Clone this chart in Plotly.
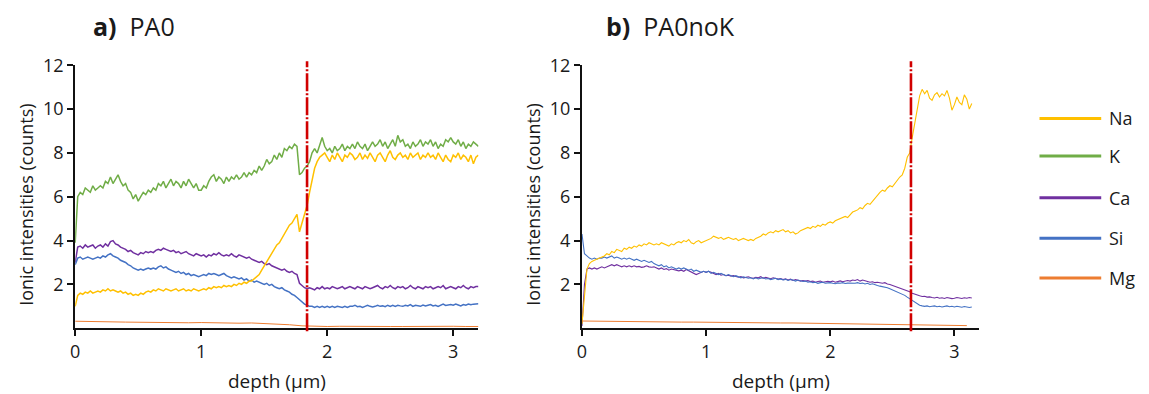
import plotly.graph_objects as go

# ---------------------------------------------------------------- data
# depth grid (µm) for the measured profiles, 0.02 µm sampling
STEP = 0.02
depth_a = [round(i * STEP, 2) for i in range(161)]   # 0 .. 3.20
depth_b = [round(i * STEP, 2) for i in range(158)]   # 0 .. 3.14
# coarser grid for the weak Mg signal, 0.1 µm sampling
depth_mg_a = [round(i * 0.1, 1) for i in range(33)]  # 0 .. 3.2
depth_mg_b = [round(i * 0.1, 1) for i in range(32)]  # 0 .. 3.1

elements = ["Na", "K", "Ca", "Si", "Mg"]
colors = {"Na": "#FFC000", "K": "#70AD47", "Ca": "#7030A0",
          "Si": "#4472C4", "Mg": "#ED7D31"}

panel_titles = ["a)", "b)"]
sample_names = ["PA0", "PA0noK"]
interface_depth = [1.84, 2.65]

x_tick_labels = ["0", "1", "2", "3"]
y_tick_labels = ["2", "4", "6", "8", "10", "12"]

# ---- sample PA0
k_a = [
    3.9, 6.0, 6.2, 6.1, 6.4, 6.3, 6.2, 6.5, 6.3, 6.4,
    6.5, 6.4, 6.7, 6.6, 6.9, 6.6, 6.8, 7.0, 6.7, 6.5,
    6.6, 6.3, 6.2, 5.9, 6.1, 5.8, 6.0, 6.2, 6.1, 6.3,
    6.2, 6.4, 6.3, 6.6, 6.5, 6.7, 6.4, 6.6, 6.8, 6.5,
    6.7, 6.6, 6.4, 6.7, 6.5, 6.8, 6.6, 6.4, 6.6, 6.3,
    6.3, 6.5, 6.4, 6.7, 6.9, 7.0, 6.7, 6.9, 6.8, 6.6,
    6.9, 6.7, 6.9, 6.8, 7.0, 6.8, 6.9, 7.1, 6.9, 7.1,
    7.0, 7.2, 7.1, 7.4, 7.2, 7.4, 7.7, 7.5, 7.6, 7.9,
    7.7, 8.0, 7.8, 8.2, 8.1, 8.3, 8.2, 8.4, 8.3, 7.0,
    7.1, 7.3, 7.4, 7.6, 8.0, 8.2, 8.0, 8.4, 8.7, 8.3,
    8.1, 8.2, 8.0, 8.3, 8.1, 8.2, 8.4, 8.1, 8.3, 8.2,
    8.4, 8.2, 8.5, 8.3, 8.2, 8.4, 8.1, 8.3, 8.5, 8.3,
    8.4, 8.6, 8.3, 8.5, 8.2, 8.4, 8.6, 8.3, 8.8, 8.5,
    8.6, 8.3, 8.4, 8.2, 8.5, 8.3, 8.4, 8.6, 8.3, 8.5,
    8.4, 8.6, 8.3, 8.5, 8.2, 8.4, 8.3, 8.6, 8.5, 8.7,
    8.5, 8.4, 8.6, 8.3, 8.5, 8.2, 8.4, 8.3, 8.5, 8.4,
    8.3,
]
na_a = [
    1.0, 1.5, 1.6, 1.55, 1.65, 1.6, 1.7, 1.6, 1.65, 1.7,
    1.65, 1.75, 1.7, 1.8, 1.7, 1.75, 1.7, 1.65, 1.7, 1.6,
    1.65, 1.55, 1.6, 1.5, 1.55, 1.5, 1.6, 1.55, 1.65, 1.7,
    1.65, 1.75, 1.7, 1.8, 1.75, 1.7, 1.8, 1.75, 1.7, 1.75,
    1.8, 1.7, 1.75, 1.8, 1.7, 1.75, 1.7, 1.8, 1.75, 1.7,
    1.75, 1.8, 1.75, 1.85, 1.8, 1.9, 1.85, 1.9, 1.85, 1.95,
    1.9, 1.95, 1.9, 2.0, 1.95, 2.05, 2.0, 2.1, 2.05, 2.15,
    2.15, 2.25, 2.35, 2.45, 2.65, 2.85, 3.05, 3.25, 3.45, 3.65,
    3.8, 3.9, 4.1, 4.3, 4.5, 4.7, 4.8, 5.0, 5.2, 4.4,
    4.8, 5.3, 5.6, 6.2, 6.8, 7.3, 7.6, 7.8, 7.9, 8.0,
    7.8, 7.6, 7.9, 7.7, 8.0, 7.8, 7.6, 7.9, 7.8, 8.0,
    7.9, 7.7, 7.8, 8.0, 7.7, 7.9, 7.75, 8.0, 7.8, 7.6,
    7.9, 8.0, 7.8, 7.6, 7.9, 8.1, 7.8, 7.7, 7.9, 8.0,
    7.8, 7.9, 7.7, 8.0, 7.8, 7.9, 8.0, 7.7, 7.9, 7.8,
    8.0, 7.8, 7.9, 7.7, 8.0, 7.8, 7.6, 7.9, 7.7, 7.6,
    7.9, 7.8, 8.0, 7.7, 7.9, 7.8, 7.6, 7.9, 7.5, 7.8,
    7.9,
]
ca_a = [
    3.0, 3.7, 3.75, 3.65, 3.8, 3.7, 3.75, 3.8, 3.65, 3.75,
    3.8, 3.7, 3.85, 3.75, 3.95, 4.0, 3.85, 3.8, 3.7, 3.65,
    3.6, 3.5, 3.55, 3.45, 3.4, 3.35, 3.45, 3.4, 3.5, 3.45,
    3.5, 3.45, 3.55, 3.6, 3.55, 3.65, 3.6, 3.55, 3.5, 3.55,
    3.45, 3.5, 3.4, 3.45, 3.5, 3.4, 3.35, 3.3, 3.4, 3.35,
    3.3, 3.35, 3.25, 3.35, 3.3, 3.4, 3.35, 3.45, 3.35, 3.3,
    3.35, 3.3, 3.4, 3.3, 3.25, 3.35, 3.3, 3.25, 3.2, 3.25,
    3.15, 3.1, 3.05, 3.0, 3.05, 2.95, 2.9, 2.95, 2.85, 2.8,
    2.75, 2.7, 2.65, 2.7, 2.6, 2.55, 2.6, 2.5, 2.45, 2.05,
    1.95, 1.85, 1.8, 1.85, 1.8, 1.75, 1.85, 1.8, 1.9, 1.8,
    1.85, 1.8, 1.9, 1.85, 1.8, 1.85, 1.9, 1.8, 1.85, 1.9,
    1.85, 1.8, 1.9, 1.85, 1.8, 1.9, 1.85, 1.8, 1.85, 1.9,
    1.95, 1.85, 1.8, 1.9, 1.85, 1.95, 1.85, 1.8, 1.9, 1.85,
    1.9, 1.8, 1.85, 1.95, 1.85, 1.8, 1.9, 1.85, 1.8, 1.9,
    1.85, 1.9, 1.8, 1.85, 1.9, 1.85, 1.95, 1.8, 1.85, 1.9,
    1.85, 1.8, 1.9, 1.85, 1.95, 1.85, 1.8, 1.9, 1.85, 1.9,
    1.9,
]
si_a = [
    2.9, 3.2, 3.25, 3.15, 3.2, 3.25, 3.2, 3.15, 3.2, 3.25,
    3.2, 3.3, 3.25, 3.35, 3.4, 3.3, 3.25, 3.2, 3.1, 3.05,
    3.0, 2.9, 2.85, 2.75, 2.7, 2.65, 2.7, 2.65, 2.7, 2.75,
    2.7, 2.75, 2.7, 2.8, 2.85, 2.75, 2.8, 2.7, 2.65, 2.6,
    2.55, 2.6, 2.5, 2.55, 2.45, 2.5, 2.4, 2.45, 2.4, 2.35,
    2.4, 2.45, 2.4, 2.5, 2.45, 2.5, 2.45, 2.4, 2.45, 2.5,
    2.4, 2.35, 2.3, 2.35, 2.3, 2.25, 2.3, 2.2, 2.25, 2.15,
    2.2, 2.1, 2.15, 2.1, 2.05, 2.0, 2.05, 1.95, 2.0, 1.9,
    1.85, 1.8, 1.85, 1.75, 1.7, 1.65, 1.55, 1.5, 1.4, 1.3,
    1.2, 1.1, 1.05, 1.0, 1.0, 0.95, 1.0, 0.95, 1.0, 0.95,
    1.0, 0.95, 1.0, 0.95, 1.0, 0.97, 0.95, 1.0, 0.95, 1.0,
    1.0, 1.05, 0.98, 1.0, 0.95, 1.0, 1.05, 1.0, 0.97, 1.0,
    1.05, 1.0, 1.02, 0.98, 1.05, 1.0, 1.05, 1.0, 1.05, 1.02,
    1.0, 1.05, 1.02, 1.08, 1.0, 1.05, 1.03, 1.0, 1.06, 1.02,
    1.05, 1.08, 1.02, 1.05, 1.0, 1.06, 1.1, 1.04, 1.05, 1.08,
    1.05, 1.1, 1.06, 1.02, 1.08, 1.05, 1.1, 1.07, 1.1, 1.12,
    1.12,
]
mg_a = [
    0.32, 0.30, 0.31, 0.29, 0.28, 0.27, 0.28, 0.26, 0.27, 0.25,
    0.26, 0.24, 0.25, 0.23, 0.24, 0.22, 0.20, 0.16, 0.11, 0.08,
    0.08, 0.09, 0.08, 0.08, 0.09, 0.08, 0.08, 0.09, 0.08, 0.08,
    0.09, 0.08, 0.08,
]

# ---- sample PA0noK
na_b = [
    0.2, 1.5, 2.7, 2.95, 3.05, 3.1, 3.15, 3.2, 3.25, 3.3,
    3.4, 3.35, 3.5, 3.45, 3.6, 3.55, 3.5, 3.65, 3.6, 3.7,
    3.65, 3.75, 3.7, 3.8, 3.75, 3.85, 3.8, 3.9, 3.85, 3.8,
    3.85, 3.8, 3.9, 3.85, 3.8, 3.75, 3.85, 3.8, 3.9, 3.95,
    3.9, 4.0, 3.95, 4.05, 3.9, 3.85, 3.95, 4.0, 3.9, 3.95,
    4.0, 4.05, 4.1, 4.2, 4.15, 4.1, 4.15, 4.05, 4.1, 4.15,
    4.1, 4.05, 4.1, 4.0, 4.05, 4.1, 4.05, 4.0, 4.05, 4.0,
    4.1, 4.15, 4.2, 4.3, 4.25, 4.35, 4.4, 4.35, 4.45, 4.4,
    4.45, 4.5, 4.4, 4.45, 4.35, 4.4, 4.3, 4.35, 4.45, 4.5,
    4.55, 4.6, 4.55, 4.65, 4.6, 4.7, 4.65, 4.75, 4.7, 4.8,
    4.85, 4.8, 4.9, 4.95, 5.0, 5.05, 5.1, 5.05, 5.2, 5.3,
    5.35, 5.4, 5.5, 5.45, 5.6, 5.7, 5.65, 5.8, 5.9, 6.05,
    6.2, 6.3, 6.25, 6.4, 6.5, 6.45, 6.6, 6.8, 6.9, 7.0,
    7.3, 7.8, 8.0, 8.7, 9.4, 10.1, 10.6, 10.9, 10.7, 10.85,
    10.5, 10.4, 10.65, 10.75, 10.55, 10.7, 10.6, 10.85, 10.5, 9.95,
    10.2, 10.55, 10.3, 10.2, 10.65, 10.45, 10.0, 10.25,
]
si_b = [
    4.3, 3.4, 3.3, 3.2, 3.15, 3.2, 3.15, 3.2, 3.2, 3.25,
    3.2, 3.25, 3.3, 3.2, 3.25, 3.2, 3.15, 3.2, 3.15, 3.2,
    3.15, 3.1, 3.15, 3.1, 3.05, 3.1, 3.05, 3.0, 3.05, 2.95,
    2.9, 2.85, 2.9, 2.8, 2.85, 2.75, 2.8, 2.75, 2.7, 2.75,
    2.7, 2.75, 2.7, 2.65, 2.7, 2.6, 2.65, 2.6, 2.55, 2.6,
    2.55, 2.6, 2.5, 2.55, 2.5, 2.45, 2.5, 2.45, 2.4, 2.45,
    2.4, 2.35, 2.4, 2.35, 2.3, 2.35, 2.3, 2.28, 2.3, 2.25,
    2.3, 2.25, 2.28, 2.3, 2.25, 2.27, 2.22, 2.25, 2.28, 2.22,
    2.25, 2.2, 2.23, 2.18, 2.22, 2.2, 2.15, 2.2, 2.17, 2.13,
    2.15, 2.1, 2.12, 2.08, 2.1, 2.05, 2.08, 2.1, 2.05, 2.06,
    2.08, 2.05, 2.03, 2.07, 2.05, 2.08, 2.04, 2.06, 2.05, 2.03,
    2.05, 2.08, 2.04, 2.06, 2.02, 2.05, 2.0, 2.03, 1.98, 1.95,
    1.92, 1.9, 1.88, 1.85, 1.8, 1.75, 1.7, 1.65, 1.62, 1.55,
    1.5, 1.42, 1.35, 1.25, 1.18, 1.1, 1.05, 1.02, 1.0, 1.02,
    0.98, 1.0, 1.02, 0.98, 1.0, 0.97, 1.0, 1.02, 0.98, 1.0,
    0.97, 1.0, 0.98, 0.96, 0.99, 0.97, 0.95, 0.97,
]
ca_b = [
    0.1, 2.0, 2.7, 2.75, 2.7, 2.75, 2.7, 2.75, 2.8, 2.75,
    2.8, 2.85, 2.9, 2.85, 2.9, 2.85, 2.8, 2.85, 2.8, 2.85,
    2.8, 2.85, 2.8, 2.82, 2.78, 2.8, 2.85, 2.8, 2.78, 2.8,
    2.75, 2.7, 2.75, 2.68, 2.72, 2.65, 2.7, 2.68, 2.65, 2.62,
    2.65, 2.6, 2.68, 2.62, 2.55, 2.5, 2.45, 2.5, 2.55, 2.6,
    2.55, 2.6, 2.55, 2.5, 2.45, 2.5, 2.42, 2.45, 2.4, 2.42,
    2.38, 2.4, 2.35, 2.33, 2.36, 2.3, 2.32, 2.35, 2.3, 2.28,
    2.32, 2.3, 2.35, 2.28, 2.32, 2.3, 2.26, 2.3, 2.27, 2.24,
    2.27, 2.22, 2.25, 2.2, 2.24, 2.18, 2.22, 2.2, 2.15, 2.18,
    2.15, 2.17, 2.13, 2.15, 2.1, 2.13, 2.15, 2.1, 2.12, 2.14,
    2.12, 2.15, 2.1, 2.13, 2.16, 2.12, 2.15, 2.18, 2.15, 2.2,
    2.18, 2.22, 2.15, 2.2, 2.17, 2.13, 2.1, 2.12, 2.08, 2.1,
    2.07, 2.05, 2.08, 2.02, 2.0, 1.96, 1.92, 1.88, 1.85, 1.8,
    1.76, 1.7, 1.66, 1.6, 1.55, 1.52, 1.48, 1.45, 1.46, 1.42,
    1.43, 1.4, 1.38, 1.41, 1.37, 1.39, 1.36, 1.4, 1.38, 1.35,
    1.37, 1.4, 1.38, 1.36, 1.39, 1.37, 1.4, 1.38,
]
mg_b = [
    0.33, 0.32, 0.31, 0.31, 0.30, 0.30, 0.29, 0.29, 0.28, 0.28,
    0.27, 0.27, 0.26, 0.26, 0.25, 0.25, 0.24, 0.24, 0.23, 0.23,
    0.22, 0.22, 0.21, 0.21, 0.20, 0.19, 0.17, 0.15, 0.14, 0.13,
    0.13, 0.12,
]

# series per panel: element -> (depth, values)
panels = [
    {"Na": (depth_a, na_a), "K": (depth_a, k_a), "Ca": (depth_a, ca_a),
     "Si": (depth_a, si_a), "Mg": (depth_mg_a, mg_a)},
    {"Na": (depth_b, na_b), "Ca": (depth_b, ca_b),
     "Si": (depth_b, si_b), "Mg": (depth_mg_b, mg_b)},
]

# ---------------------------------------------------------------- layout
W, H = 1149, 394
FONT = "Open Sans"
TXT = "#1a1a1a"


def px(x):
    return x / W


def py(y):
    return 1 - y / H


# placement in figure pixels (measured from the top-left corner)
plot_left = [70.5, 579.5]
plot_right = [475.5, 978.5]
plot_top, plot_bottom = 54, 326
marker_top, marker_bottom = 50, 329
title_x = [86, 602]
title_y = 13
ytitle_dx = 49
ytitle_y = 198
xtitle_y = 381
legend_y = [109, 148, 191, 233, 274]
line_w = [1.5, 1.1]

fig = go.Figure()

for i, series in enumerate(panels):
    ax = "" if i == 0 else str(i + 1)
    draw_order = ["K", "Ca", "Si", "Na", "Mg"]
    for el in draw_order:
        if el not in series:
            continue
        d, v = series[el]
        fig.add_trace(go.Scatter(
            x=d, y=v, mode="lines", name=el, showlegend=False,
            line=dict(color=colors[el], width=1.0 if el == "Mg" else line_w[i]),
            xaxis="x" + ax, yaxis="y" + ax, hoverinfo="skip",
        ))

    axis_common = dict(
        showline=True, linecolor="#111", linewidth=2, mirror=False,
        showgrid=False, zeroline=False, ticks="outside", ticklen=6,
        tickwidth=1.5, tickcolor="#111",
        tickfont=dict(family=FONT, size=18, color=TXT),
    )
    fig.update_layout({
        "xaxis" + ax: dict(
            domain=[px(plot_left[i]), px(plot_right[i])], range=[0, 3.2],
            anchor="y" + ax, tickvals=[0, 1, 2, 3], ticktext=x_tick_labels,
            **axis_common),
        "yaxis" + ax: dict(
            domain=[py(plot_bottom), py(plot_top)], range=[0, 12],
            anchor="x" + ax,
            tickvals=[float(t) for t in y_tick_labels], ticktext=y_tick_labels,
            **axis_common),
    })

    # interface marker
    fig.add_shape(
        type="line", xref="x" + ax, yref="paper",
        x0=interface_depth[i], x1=interface_depth[i],
        y0=py(marker_bottom), y1=py(marker_top),
        line=dict(color="#D10000", width=2.6, dash="18px,2px,2px,2px"),
    )

    # panel title
    fig.add_annotation(
        xref="paper", yref="paper", x=px(title_x[i]), y=py(title_y),
        xanchor="left", yanchor="middle", showarrow=False,
        text=f"<b>{panel_titles[i]}</b>&nbsp;&nbsp;{sample_names[i]}",
        font=dict(family=FONT, size=25, color=TXT),
    )

    # axis titles
    fig.add_annotation(
        xref="paper", yref="paper", x=px(plot_left[i] - ytitle_dx),
        y=py(ytitle_y), xanchor="center", yanchor="middle", showarrow=False,
        textangle=-90, text="Ionic intensities (counts)",
        font=dict(family=FONT, size=18, color=TXT),
    )
    fig.add_annotation(
        xref="paper", yref="paper", x=px((plot_left[i] + plot_right[i]) / 2),
        y=py(xtitle_y), xanchor="center", yanchor="middle", showarrow=False,
        text="depth (µm)",
        font=dict(family=FONT, size=19, color=TXT),
    )

# legend
for el, ly in zip(elements, legend_y):
    fig.add_shape(
        type="line", xref="paper", yref="paper",
        x0=px(1039), x1=px(1101), y0=py(ly), y1=py(ly),
        line=dict(color=colors[el], width=3),
    )
    fig.add_annotation(
        xref="paper", yref="paper", x=px(1107), y=py(ly),
        xanchor="left", yanchor="middle", showarrow=False, text=el,
        font=dict(family=FONT, size=18, color=TXT),
    )

fig.update_layout(
    width=W, height=H, margin=dict(l=0, r=0, t=0, b=0),
    paper_bgcolor="white", plot_bgcolor="white", showlegend=False,
)

fig.write_html("out.html")
